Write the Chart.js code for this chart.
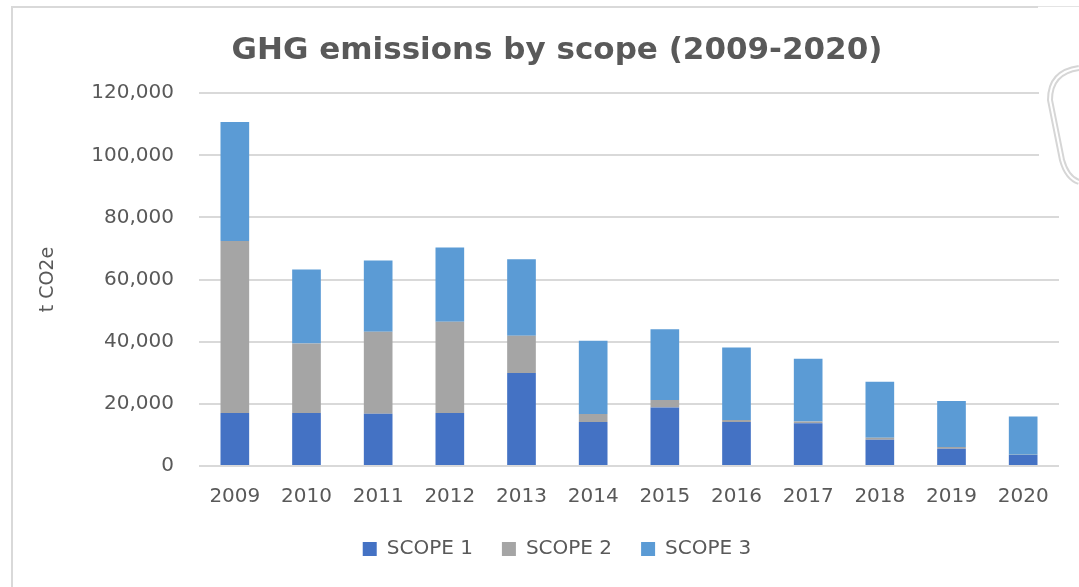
<!DOCTYPE html>
<html>
<head>
<meta charset="utf-8">
<script src="https://cdn.jsdelivr.net/npm/chart.js@4"></script>
<style>
    html, body { margin: 0; padding: 0; background: #fff; }
    #wrap { width: 1079px; height: 587px; position: relative; }
</style>
</head>
<body>
<div id="wrap"><canvas id="ghgChart"></canvas></div>
<script>
// values (t CO2e)
const years = ["2009", "2010", "2011", "2012", "2013", "2014", "2015", "2016", "2017", "2018", "2019", "2020"];
const scope1 = [17100, 17100, 16800, 17100, 29900, 14150, 18800, 14150, 13800, 8450, 5550, 3550];
const scope2 = [55300, 22350, 26400, 29300, 12000, 2550, 2450, 650, 550, 650, 550, 100];
const scope3 = [38300, 23800, 22950, 23900, 24650, 23600, 22750, 23350, 20150, 18000, 14800, 12300];
const yTicks = [0, 20000, 40000, 60000, 80000, 100000, 120000];

const TEXT = "#595959";
const GRID = "#d9d9d9";

// frame lines and the pale shape in the top right corner of the screenshot
const framePlugin = {
    id: "frame",
    beforeDraw(chart) {
        const ctx = chart.ctx;
        ctx.save();
        ctx.fillStyle = "#fff";
        ctx.fillRect(0, 0, chart.width, chart.height);
        ctx.strokeStyle = GRID;
        ctx.lineWidth = 2;
        ctx.beginPath();
        ctx.moveTo(12, 587);
        ctx.lineTo(12, 7);
        ctx.lineTo(1038, 7);
        ctx.stroke();
        ctx.lineWidth = 1;
        ctx.strokeStyle = "#e4e4e4";
        ctx.beginPath();
        ctx.moveTo(1038, 6.5);
        ctx.lineTo(1079, 6.5);
        ctx.stroke();
        ctx.restore();
    },
    afterDraw(chart) {
        const ctx = chart.ctx;
        ctx.save();
        ctx.fillStyle = "#fff";
        ctx.fillRect(1039, 60, 40, 130);
        const shape = () => {
            ctx.beginPath();
            ctx.moveTo(1079, 68);
            ctx.quadraticCurveTo(1050, 72, 1050, 100);
            ctx.lineTo(1062, 160);
            ctx.quadraticCurveTo(1067, 178, 1079, 182);
        };
        shape();
        ctx.strokeStyle = "#d6d6d6";
        ctx.lineWidth = 6;
        ctx.stroke();
        shape();
        ctx.strokeStyle = "#fff";
        ctx.lineWidth = 2;
        ctx.stroke();
        ctx.restore();
    }
};

new Chart(document.getElementById("ghgChart"), {
    type: "bar",
    data: {
        labels: years,
        datasets: [
            { label: "SCOPE 1", data: scope1, backgroundColor: "#4472c4" },
            { label: "SCOPE 2", data: scope2, backgroundColor: "#a5a5a5" },
            { label: "SCOPE 3", data: scope3, backgroundColor: "#5b9bd5" }
        ]
    },
    options: {
        responsive: true,
        maintainAspectRatio: false,
        animation: false,
        devicePixelRatio: 1,
        layout: { padding: { left: 55, right: 20, top: 0, bottom: 18 } },
        datasets: {
            bar: { categoryPercentage: 1, barPercentage: 0.4, borderWidth: 0 }
        },
        scales: {
            x: {
                stacked: true,
                grid: { display: false, drawTicks: false },
                border: { display: false },
                ticks: {
                    color: TEXT,
                    padding: 19,
                    maxRotation: 0,
                    font: { family: "DejaVu Sans", size: 20 }
                },
                afterFit(scale) { scale.height = 44; }
            },
            y: {
                stacked: true,
                min: 0,
                max: 120000,
                afterBuildTicks(scale) {
                    scale.ticks = yTicks.map(v => ({ value: v }));
                },
                grid: { color: GRID, lineWidth: 2, drawTicks: false },
                border: { display: false },
                ticks: {
                    color: TEXT,
                    padding: 25,
                    font: { family: "DejaVu Sans", size: 20 },
                    callback: v => v.toLocaleString("en-US")
                },
                title: {
                    display: true,
                    text: "t CO2e",
                    color: TEXT,
                    padding: { top: -18, bottom: 0 },
                    font: { family: "DejaVu Sans", size: 19 }
                },
                afterFit(scale) { scale.width = 144; }
            }
        },
        plugins: {
            title: {
                display: true,
                text: "GHG emissions by scope (2009-2020)",
                color: TEXT,
                padding: { top: 32, bottom: 24 },
                font: { family: "DejaVu Sans", size: 31, weight: "bold" }
            },
            legend: {
                position: "bottom",
                labels: {
                    color: TEXT,
                    boxWidth: 14,
                    boxHeight: 14,
                    padding: 29,
                    font: { family: "DejaVu Sans", size: 20 }
                }
            },
            tooltip: { enabled: false }
        }
    },
    plugins: [framePlugin]
});
</script>
</body>
</html>
